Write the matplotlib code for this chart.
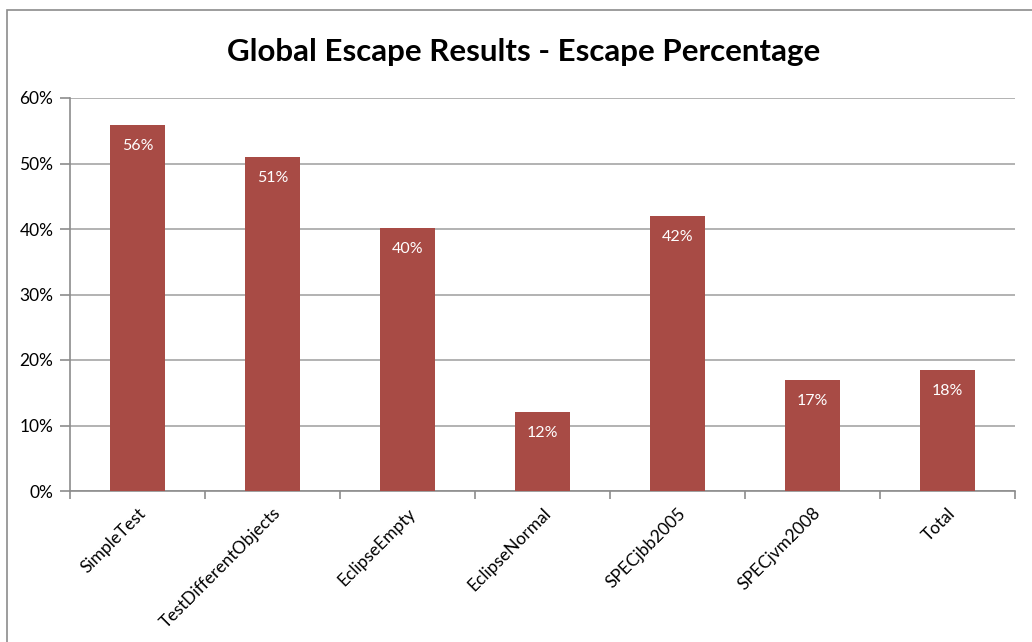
import matplotlib.pyplot as plt
from matplotlib.patches import Rectangle
from matplotlib.ticker import PercentFormatter

plt.rcParams['font.family'] = ['Lato', 'DejaVu Sans']

tests = ['SimpleTest', 'TestDifferentObjects', 'EclipseEmpty', 'EclipseNormal',
         'SPECjbb2005', 'SPECjvm2008', 'Total']
escape_pct = [55.9, 51.0, 40.2, 12.1, 42.0, 16.9, 18.4]
labels = ['56%', '51%', '40%', '12%', '42%', '17%', '18%']

fig = plt.figure(figsize=(10.32, 6.42), dpi=100)
ax = fig.add_axes([70 / 1032, 151 / 642, 945 / 1032, 393 / 642])

# chart border
fig.patches.append(Rectangle((7 / 1032, -0.1), 1.2, 1 - 10 / 642 + 0.1,
                             transform=fig.transFigure, fill=False,
                             edgecolor='#8c8c8c', linewidth=1.2))

x = list(range(len(tests)))
bars = ax.bar(x, escape_pct, width=0.41, color='#A84B45', zorder=3)

for rect, lab in zip(bars, labels):
    ax.text(rect.get_x() + rect.get_width() / 2, rect.get_height() - 3.2, lab,
            ha='center', va='center', color='white', fontsize=11.5, zorder=4)

ax.set_xlim(-0.5, len(tests) - 0.5)
ax.set_ylim(0, 60)
ax.set_yticks(range(0, 61, 10))
ax.yaxis.set_major_formatter(PercentFormatter(decimals=0))
ax.grid(axis='y', color='#a6a6a6', linewidth=1.2, zorder=0)

ax.set_xticks([i - 0.5 for i in range(len(tests) + 1)])
ax.set_xticklabels([])
ax.set_xticks(x, minor=True)
ax.set_xticklabels(tests, minor=True, rotation=45, ha='right',
                   rotation_mode='anchor', fontsize=12.5)
ax.tick_params(axis='x', which='minor', length=0, pad=10)
ax.tick_params(axis='x', which='major', length=6, color='#8c8c8c', width=1.2)
ax.tick_params(axis='y', length=7, color='#8c8c8c', width=1.2, labelsize=12.5, pad=5)

for side in ['top', 'right']:
    ax.spines[side].set_visible(False)
for side in ['left', 'bottom']:
    ax.spines[side].set_color('#8c8c8c')
    ax.spines[side].set_linewidth(1.2)

fig.text(524 / 1032, 1 - 52 / 642, 'Global Escape Results - Escape Percentage',
         ha='center', va='center', fontsize=22.5, fontweight='bold')

fig.savefig('out.png', dpi=100)
